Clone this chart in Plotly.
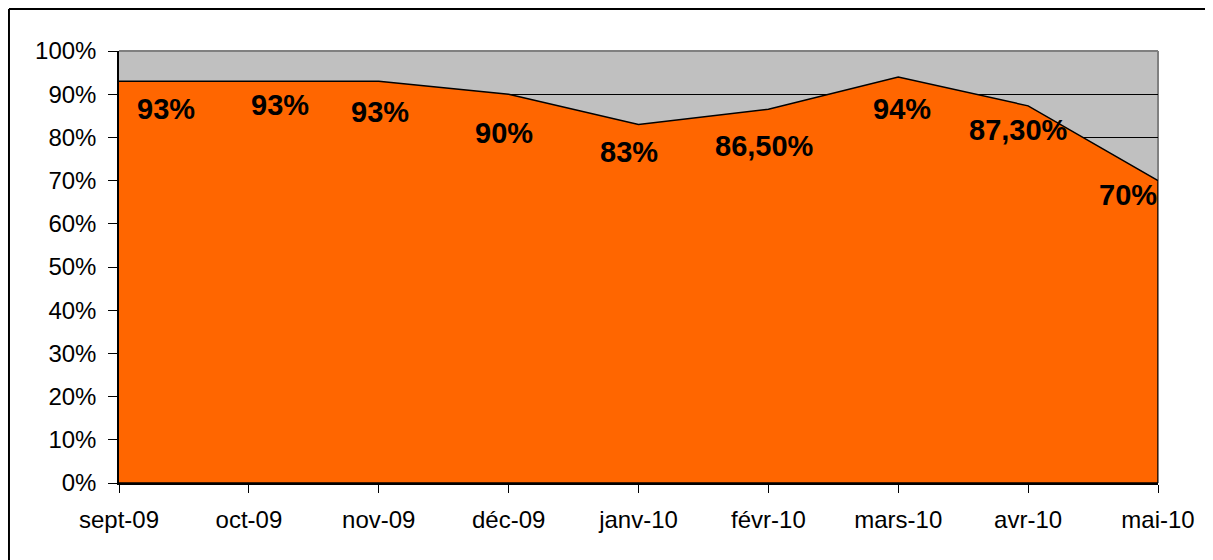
import plotly.graph_objects as go

months = ["sept-09", "oct-09", "nov-09", "déc-09", "janv-10", "févr-10", "mars-10", "avr-10", "mai-10"]
values = [0.93, 0.93, 0.93, 0.90, 0.83, 0.865, 0.94, 0.873, 0.70]
labels = ["93%", "93%", "93%", "90%", "83%", "86,50%", "94%", "87,30%", "70%"]

# label pixel offsets (layout only)
label_dx = [47, 31, 1, -5, -10, -4, 4, -10, -30]
label_dy = [-28, -24, -31, -39, -28, -37, -32, -24, -14]

FONT = "Liberation Sans, Arial, sans-serif"

# closed polygon for the area, built from the data
poly_x = months + [months[-1], months[0]]
poly_y = values + [0, 0]

fig = go.Figure()
fig.add_trace(go.Scatter(
    x=poly_x, y=poly_y, mode="lines", fill="toself",
    fillcolor="#FF6600", line=dict(color="black", width=1.5),
    hoverinfo="skip", showlegend=False,
))

annotations = []
for m, v, t, dx, dy in zip(months, values, labels, label_dx, label_dy):
    annotations.append(dict(
        x=m, y=v, text=t, showarrow=False, xshift=dx, yshift=dy,
        xanchor="center", yanchor="middle",
        font=dict(family=FONT, size=29, color="black", weight="bold"),
    ))

shapes = [
    # outer chart border (top and left visible)
    dict(type="line", xref="paper", yref="paper", x0=-0.1059, x1=1.2, y0=1.0972, y1=1.0972,
         line=dict(color="black", width=2), layer="above"),
    dict(type="line", xref="paper", yref="paper", x0=-0.1059, x1=-0.1059, y0=1.0972, y1=-0.3,
         line=dict(color="black", width=2), layer="above"),
    # plot area gray border
    dict(type="line", xref="paper", yref="paper", x0=0, x1=1, y0=1, y1=1,
         line=dict(color="#808080", width=2), layer="above"),
    dict(type="line", xref="paper", yref="paper", x0=1, x1=1, y0=0, y1=1,
         line=dict(color="#808080", width=2), layer="between"),
]

fig.update_layout(
    width=1205, height=552,
    margin=dict(l=111, r=55, t=43, b=77),
    paper_bgcolor="white", plot_bgcolor="#C0C0C0",
    font=dict(family=FONT, size=24, color="black"),
    showlegend=False,
    annotations=annotations,
    shapes=shapes,
    xaxis=dict(
        type="category", categoryorder="array", categoryarray=months,
        range=[0, len(months) - 1], showgrid=False, zeroline=False,
        showline=True, linecolor="black", linewidth=1.5,
        ticks="outside", ticklen=8, tickcolor="black", tickwidth=1,
        tickfont=dict(family=FONT, size=24, color="black"),
        ticklabelstandoff=6,
    ),
    yaxis=dict(
        range=[0, 1], tickvals=[i / 10 for i in range(11)], tickformat=".0%",
        showgrid=True, gridcolor="black", gridwidth=1, zeroline=False,
        showline=True, linecolor="black", linewidth=1.5,
        ticks="outside", ticklen=9, tickcolor="black", tickwidth=1,
        tickfont=dict(family=FONT, size=24, color="black"),
        ticklabelstandoff=7,
    ),
)

fig.write_html("out.html")
